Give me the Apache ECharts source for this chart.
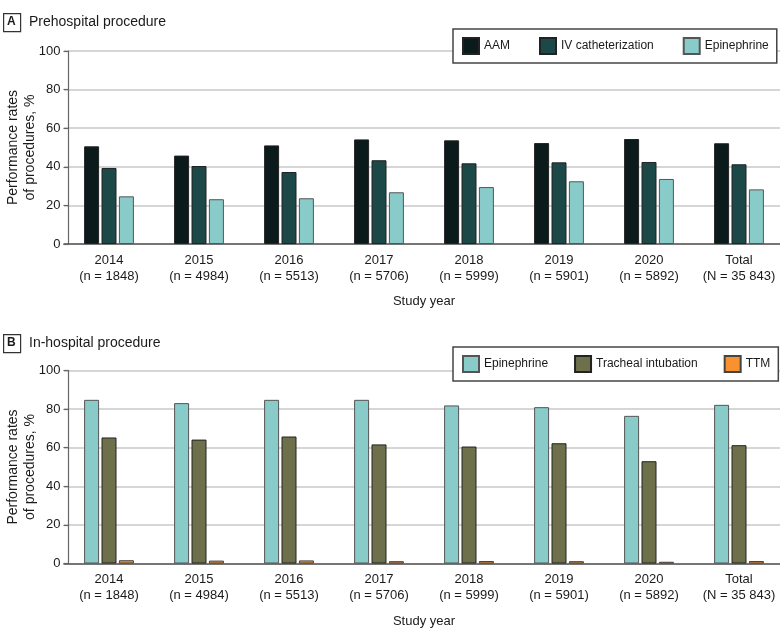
<!DOCTYPE html>
<html>
<head>
<meta charset="utf-8">
<script src="https://cdn.jsdelivr.net/npm/echarts@6/dist/echarts.min.js"></script>
<style>
html,body{margin:0;padding:0;background:#fff;}
#chart{width:780px;height:634px;}
</style>
</head>
<body>
<div id="chart"></div>
<script>
// ---- data ----
const categories = ['2014', '2015', '2016', '2017', '2018', '2019', '2020', 'Total'];
const sampleSizes = ['(n = 1848)', '(n = 4984)', '(n = 5513)', '(n = 5706)', '(n = 5999)', '(n = 5901)', '(n = 5892)', '(N = 35 843)'];
const yTicks = [0, 20, 40, 60, 80, 100];

// Panel A: prehospital
const preAAM = [50.6, 45.8, 51.1, 54.2, 53.7, 52.3, 54.4, 52.2];
const preIV = [39.4, 40.4, 37.3, 43.4, 41.8, 42.3, 42.5, 41.3];
const preEpi = [24.7, 23.2, 23.7, 26.8, 29.5, 32.5, 33.7, 28.3];

// Panel B: in-hospital
const inEpi = [84.8, 83.1, 84.8, 84.8, 81.9, 81.0, 76.5, 82.2];
const inTrach = [65.3, 64.2, 65.8, 61.7, 60.6, 62.3, 53.0, 61.3];
const inTTM = [1.7, 1.5, 1.6, 1.2, 1.3, 1.2, 0.9, 1.3];

// ---- styling ----
const FONT = '"Liberation Sans", Arial, sans-serif';
const TXT = '#1a1a1a';
const C = {
  aam: '#0b1a1a', iv: '#1c4848', epi: '#88cbc9', trach: '#6e704b', ttm: '#f7922e'
};
const labels = categories.map((c, i) => c + '\n' + sampleSizes[i]);

function xAxis(gridIndex) {
  return {
    type: 'category', gridIndex, data: labels,
    axisLine: { lineStyle: { color: '#555', width: 1.5 } },
    axisTick: { show: false },
    axisLabel: { color: TXT, fontFamily: FONT, fontSize: 13, lineHeight: 16, margin: 8, interval: 0 },
    name: 'Study year', nameLocation: 'middle', nameGap: 51,
    nameTextStyle: { color: TXT, fontFamily: FONT, fontSize: 13 }
  };
}
function yAxis(gridIndex) {
  return {
    type: 'value', gridIndex, min: yTicks[0], max: yTicks[yTicks.length - 1], interval: 20,
    offset: -4.5,
    axisLine: { show: true, lineStyle: { color: '#666', width: 1.2 } },
    axisTick: { show: true, inside: false, length: 5, lineStyle: { color: '#666', width: 1.2 } },
    axisLabel: { color: TXT, fontFamily: FONT, fontSize: 13, margin: 8 },
    splitLine: { show: true, lineStyle: { color: '#c8c8c8', width: 1.5 } },
    name: 'Performance rates\nof procedures, %', nameLocation: 'middle', nameRotate: 90,
    nameGap: 30, nameMoveOverlap: false,
    nameTextStyle: { color: TXT, fontFamily: FONT, fontSize: 14, lineHeight: 17 }
  };
}
function bar(name, data, color, idx, border) {
  return {
    type: 'bar', name, data, xAxisIndex: idx, yAxisIndex: idx,
    barWidth: 15, barGap: '16%',
    itemStyle: { color, borderColor: border, borderWidth: 1 },
    emphasis: { disabled: true }, animation: false
  };
}
function legend(top, names, gap) {
  return {
    data: names, left: 453, top, width: 400, orient: 'horizontal',
    icon: 'rect', itemWidth: 16, itemHeight: 16, itemGap: gap,
    padding: [8, 8, 8, 9],
    borderColor: '#444', borderWidth: 1.5, backgroundColor: '#fff',
    textStyle: { color: TXT, fontFamily: FONT, fontSize: 12 },
    selectedMode: false
  };
}
function panelTitle(letter, text, top) {
  return [
    { type: 'rect', left: 3, top: top, shape: { width: 17, height: 18 },
      style: { fill: '#fff', stroke: '#333', lineWidth: 1.2 } },
    { type: 'text', left: 7, top: top + 3,
      style: { text: letter, fill: TXT, font: 'bold 12px ' + FONT } },
    { type: 'text', left: 29, top: top + 2,
      style: { text: text, fill: TXT, font: '14px ' + FONT } }
  ];
}

const chart = echarts.init(document.getElementById('chart'), null, { renderer: 'canvas' });
chart.setOption({
  animation: false,
  backgroundColor: '#fff',
  grid: [
    { left: 64, right: -4, top: 51, height: 193, containLabel: false, outerBoundsMode: 'none' },
    { left: 64, right: -4, top: 370.5, height: 193, containLabel: false, outerBoundsMode: 'none' }
  ],
  xAxis: [xAxis(0), xAxis(1)],
  yAxis: [yAxis(0), yAxis(1)],
  legend: [
    legend(29, ['AAM', 'IV catheterization', 'Epinephrine'], 29),
    legend(347, ['Epinephrine', 'Tracheal intubation', 'TTM'], 26)
  ],
  series: [
    bar('AAM', preAAM, C.aam, 0, '#222'),
    bar('IV catheterization', preIV, C.iv, 0, '#222'),
    bar('Epinephrine', preEpi, C.epi, 0, '#555'),
    bar('Epinephrine', inEpi, C.epi, 1, '#555'),
    bar('Tracheal intubation', inTrach, C.trach, 1, '#222'),
    bar('TTM', inTTM, C.ttm, 1, '#444')
  ],
  graphic: [].concat(panelTitle('A', 'Prehospital procedure', 13), panelTitle('B', 'In-hospital procedure', 334))
});
</script>
</body>
</html>
